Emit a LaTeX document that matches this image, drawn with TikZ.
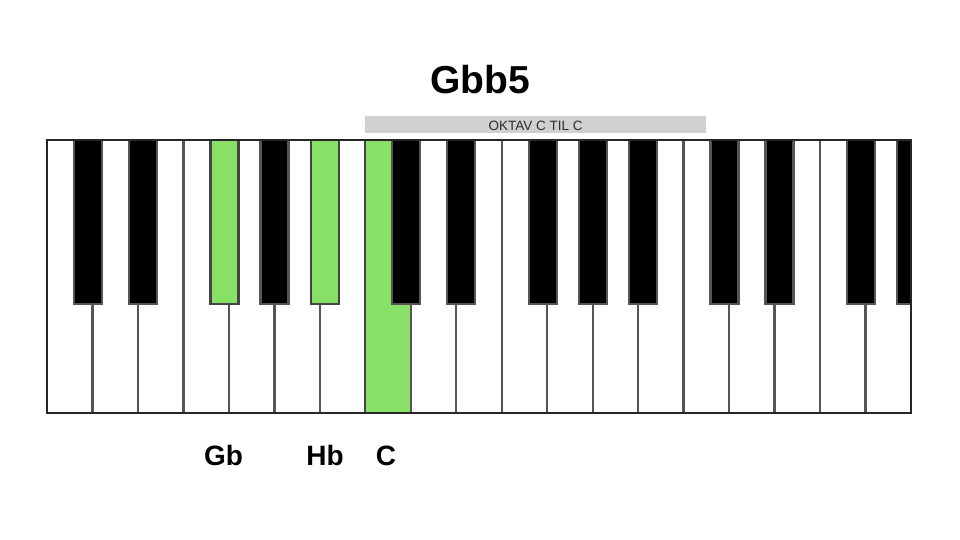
\documentclass[tikz,border=0pt]{standalone}
\usepackage{fontspec}
\setmainfont{Liberation Sans}
\definecolor{keygreen}{RGB}{136,224,102}
\definecolor{keyedge}{RGB}{85,85,85}
\definecolor{bargray}{RGB}{208,208,208}
\definecolor{bartext}{RGB}{45,45,45}
\begin{document}
\begin{tikzpicture}[x=1pt,y=-1pt,
  whitekey/.style={draw=keyedge,line width=2.3pt,fill=white},
  greenwhite/.style={draw=keyedge!80!black,line width=2.3pt,fill=keygreen},
  blackkey/.style={draw=keyedge,line width=2.3pt,fill=black},
  greenblack/.style={draw=keyedge!80!black,line width=2.3pt,fill=keygreen},
  frame/.style={draw=black!85,line width=2.3pt},
  titletext/.style={font=\bfseries\fontsize{39}{39}\selectfont,anchor=base,inner sep=0},
  notetext/.style={font=\bfseries\fontsize{28}{28}\selectfont,anchor=base,inner sep=0},
  barbox/.style={fill=bargray,minimum width=341pt,minimum height=17pt,inner sep=0},
  bartextstyle/.style={font=\fontsize{13.5}{13.5}\selectfont,text=bartext,anchor=base,inner sep=0}
]
\useasboundingbox (0,0) rectangle (960,540);
\fill[white] (0,0) rectangle (960,540);
% white keys
\foreach \i in {0,...,18} {
  \pgfmathsetmacro\xa{47+\i*45.4737}
  \pgfmathsetmacro\xb{47+(\i+1)*45.4737}
  \ifnum\i=7
    \draw[greenwhite] (\xa,140) rectangle (\xb,413);
  \else
    \draw[whitekey] (\xa,140) rectangle (\xb,413);
  \fi
}
% black keys
\foreach \b/\o/\s in {1/-4.5/blackkey,2/5/blackkey,4/-4.5/greenblack,5/0/blackkey,6/5/greenblack,
  8/-4.5/blackkey,9/5/blackkey,11/-4.5/blackkey,12/0/blackkey,13/5/blackkey,
  15/-4.5/blackkey,16/5/blackkey,18/-4.5/blackkey} {
  \pgfmathsetmacro\xc{47+\b*45.4737+\o}
  \draw[\s] (\xc-14,140) rectangle (\xc+14,304);
}
\draw[blackkey] (897,140) rectangle (911,304);
% frame
\draw[frame] (47,140) rectangle (911,413);
% texts
\node[titletext] (title) at (480,94) {Gbb5};
\node[barbox] (oktav) at (535.5,124.5) {};
\node[bartextstyle] (oktavtext) at (535.5,130.2) {OKTAV C TIL C};
\node[notetext] (gb) at (223.5,465) {Gb};
\node[notetext] (hb) at (325,465) {Hb};
\node[notetext] (c) at (386,465) {C};
\end{tikzpicture}
\end{document}
